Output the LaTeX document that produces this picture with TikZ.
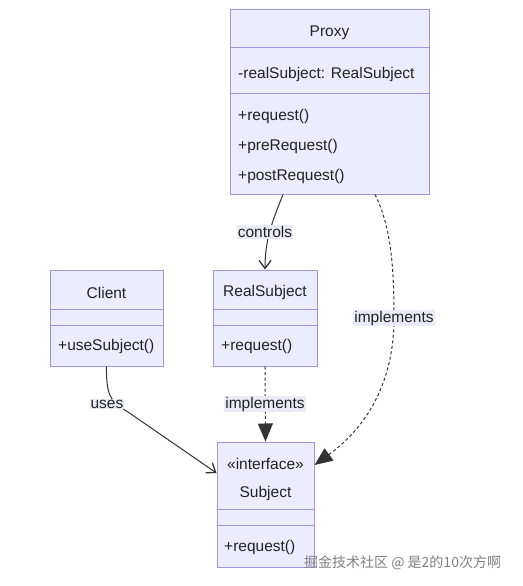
\documentclass[tikz,border=0pt]{standalone}
\usepackage{fontspec}
\setmainfont{Liberation Sans}
\newfontfamily\cjkfont{Noto Sans CJK SC}
\usetikzlibrary{arrows.meta}
\definecolor{boxfill}{HTML}{ECECFF}
\definecolor{boxline}{HTML}{A593E0}
\definecolor{edgeline}{HTML}{333333}
\definecolor{lblbg}{HTML}{EBEBF8}
\definecolor{txt}{HTML}{222222}
\definecolor{wm}{HTML}{808080}
\tikzset{
  umlbox/.style={draw=boxline, fill=boxfill, line width=1pt, inner sep=0pt},
  divider/.style={draw=boxline, line width=1pt},
  title/.style={font=\fontsize{15.5}{18}\selectfont, text=txt, inner sep=0pt, yshift=-1.5pt},
  member/.style={font=\fontsize{15.5}{18}\selectfont, text=txt, inner sep=0pt, anchor=west, yshift=-1.5pt},
  lbl/.style={font=\fontsize{15.5}{18}\selectfont, text=txt, fill=lblbg, inner sep=1pt},
  assoc/.style={draw=edgeline, line width=1pt, -{Straight Barb[length=8pt,width=12pt,line width=1.3pt]}},
  realize/.style={draw=edgeline, line width=1pt, dashed, dash pattern=on 3pt off 2.5pt, -{Triangle[length=18pt,width=15pt,fill=edgeline]}},
}
\begin{document}
\begin{tikzpicture}[x=1pt,y=-1pt]
\useasboundingbox (0,0) rectangle (522,586);
% Proxy
\node[umlbox, minimum width=199pt, minimum height=184pt] (proxy) at (329.5,102) {};
\draw[divider] (proxy.west |- 0,48) -- (proxy.east |- 0,48);
\draw[divider] (proxy.west |- 0,93) -- (proxy.east |- 0,93);
\node[title] (proxyname) at (329.5,31) {Proxy};
\node[member] (proxyattr) at (238,73) {-realSubject: RealSubject};
\node[member] (proxym1) at (238,115) {+request()};
\node[member] (proxym2) at (238,145) {+preRequest()};
\node[member] (proxym3) at (238,175) {+postRequest()};
% Client
\node[umlbox, minimum width=113pt, minimum height=96pt] (client) at (106.5,318) {};
\draw[divider] (client.west |- 0,309) -- (client.east |- 0,309);
\draw[divider] (client.west |- 0,325) -- (client.east |- 0,325);
\node[title] (clientname) at (106.5,291) {Client};
\node[member] (clientm1) at (58,345) {+useSubject()};
% RealSubject
\node[umlbox, minimum width=104pt, minimum height=96pt] (realsub) at (265,318) {};
\draw[divider] (realsub.west |- 0,309) -- (realsub.east |- 0,309);
\draw[divider] (realsub.west |- 0,325) -- (realsub.east |- 0,325);
\node[title] (realsubname) at (265,291) {RealSubject};
\node[member] (realsubm1) at (221,345) {+request()};
% Subject
\node[umlbox, minimum width=97pt, minimum height=125pt] (subject) at (265.5,504.5) {};
\draw[divider] (subject.west |- 0,509) -- (subject.east |- 0,509);
\draw[divider] (subject.west |- 0,525) -- (subject.east |- 0,525);
\node[title] (subjectst) at (265.5,462) {«interface»};
\node[title] (subjectname) at (265.5,492) {Subject};
\node[member] (subjectm1) at (224,546) {+request()};
% edges
\draw[assoc] ([xshift=-46.5pt]proxy.south) .. controls (272,222) and (265,240) .. (realsub.north);
\node[lbl] (lcontrols) at (265,232) {controls};
\draw[assoc] (client.south) .. controls (106,398) and (112,402) .. (128,412) -- ([yshift=31.5pt]subject.west);
\node[lbl] (luses) at (107,404) {uses};
\draw[realize] (realsub.south) -- (subject.north);
\node[lbl] (limpl1) at (265,404) {implements};
\draw[realize] ([xshift=45.5pt]proxy.south) .. controls (390,225) and (394,260) .. (394,318) .. controls (394,390) and (360,432) .. ([yshift=39.5pt]subject.east);
\node[lbl] (limpl2) at (394,318) {implements};
% watermark
\node[font=\cjkfont\fontsize{14}{16}\selectfont, text=wm, inner sep=0pt, anchor=west] (wmark) at (304,563) {掘金技术社区 @ 是2的10次方啊};
\end{tikzpicture}
\end{document}
